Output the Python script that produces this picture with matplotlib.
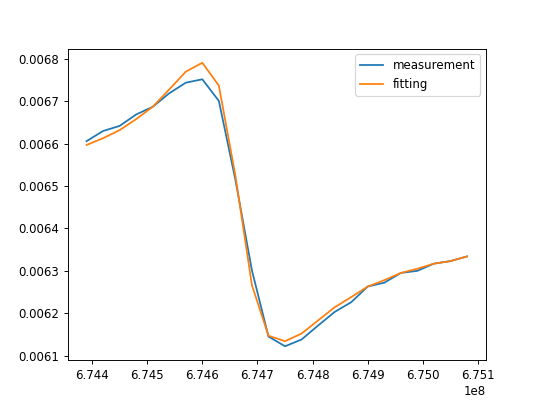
import numpy as np
import matplotlib
matplotlib.use("Agg")
import matplotlib.pyplot as plt

# frequency axis (Hz), 24 points spaced 30 kHz
freq = 674390000 + 30000 * np.arange(24)

measurement = [0.006606, 0.006630, 0.006642, 0.006669, 0.006687, 0.006719,
               0.006744, 0.006752, 0.006701, 0.006515, 0.006301, 0.006145,
               0.006122, 0.006138, 0.006171, 0.006203, 0.006226, 0.006263,
               0.006272, 0.006295, 0.006300, 0.006317, 0.006323, 0.006334]

fitting = [0.006597, 0.006613, 0.006632, 0.006658, 0.006687, 0.006728,
           0.006770, 0.006791, 0.006737, 0.006525, 0.006266, 0.006147,
           0.006134, 0.006152, 0.006183, 0.006214, 0.006238, 0.006263,
           0.006278, 0.006295, 0.006305, 0.006317, 0.006323, 0.006334]

fig, ax = plt.subplots(figsize=(6.4, 4.8), dpi=84.375)
ax.plot(freq, measurement, label="measurement")
ax.plot(freq, fitting, label="fitting")
ax.legend(loc="upper right")
fig.savefig("out.png")
plt.close(fig)
